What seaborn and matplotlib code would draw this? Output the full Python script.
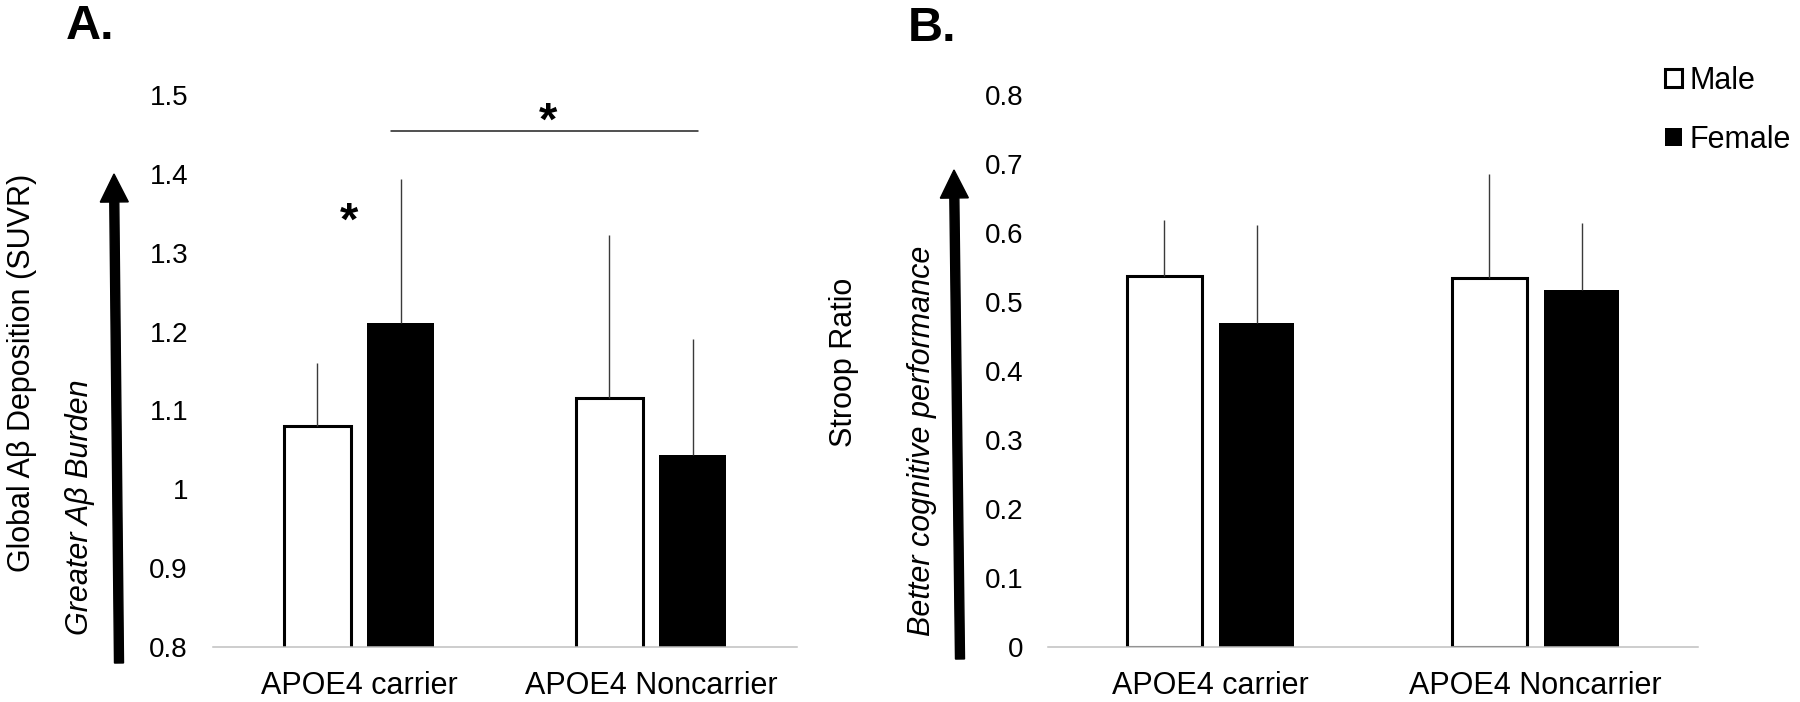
import numpy as np
import pandas as pd
import matplotlib
matplotlib.use("Agg")
import matplotlib.pyplot as plt
import matplotlib.patches as mpatches
from matplotlib.transforms import IdentityTransform
import seaborn as sns

# ==============================
# DATA
# ==============================

groups = ["APOE4 carrier", "APOE4 Noncarrier"]
sexes = ["Male", "Female"]

# Panel A - global amyloid SUVR (mean, upper SD)
abeta_male = [1.080, 1.116]
abeta_female = [1.211, 1.044]
abeta_male_sd = [0.080, 0.207]
abeta_female_sd = [0.183, 0.147]

# Panel B - Stroop ratio (mean, upper SD)
stroop_male = [0.538, 0.535]
stroop_female = [0.469, 0.518]
stroop_male_sd = [0.081, 0.151]
stroop_female_sd = [0.142, 0.097]

a_ticks = [0.8, 0.9, 1.0, 1.1, 1.2, 1.3, 1.4, 1.5]
a_ticklabels = ["0.8", "0.9", "1", "1.1", "1.2", "1.3", "1.4", "1.5"]
b_ticks = [0, 0.1, 0.2, 0.3, 0.4, 0.5, 0.6, 0.7, 0.8]
b_ticklabels = ["0", "0.1", "0.2", "0.3", "0.4", "0.5", "0.6", "0.7", "0.8"]


def long_table(male, female):
    rows = []
    for g, m, f in zip(groups, male, female):
        rows.append({"group": g, "sex": "Male", "value": m})
        rows.append({"group": g, "sex": "Female", "value": f})
    return pd.DataFrame(rows)


df_a = long_table(abeta_male, abeta_female)
df_b = long_table(stroop_male, stroop_female)

# ==============================
# STYLE
# ==============================

sns.set_style("white")
plt.rcParams["font.family"] = ["Liberation Sans", "DejaVu Sans"]
plt.rcParams["text.color"] = "black"
plt.rcParams["xtick.color"] = "black"
plt.rcParams["ytick.color"] = "black"

W, H = 1800, 702
fig = plt.figure(figsize=(W / 100, H / 100), dpi=100)

ax_a = fig.add_axes([213 / W, 1 - 647 / H, 584 / W, 552 / H])
ax_b = fig.add_axes([1048 / W, 1 - 647 / H, 650 / W, 552 / H])

palette = {"Male": "white", "Female": "black"}


def draw_panel(ax, df, male_sd, female_sd, ylim, ticks, ticklabels):
    sns.barplot(
        data=df, x="group", y="value", hue="sex",
        order=groups, hue_order=sexes, palette=palette,
        width=0.57, gap=0.19, errorbar=None, legend=False, ax=ax,
    )
    sds = [male_sd, female_sd]
    for cont, sd, sex in zip(ax.containers, sds, sexes):
        for patch, e in zip(cont.patches, sd):
            patch.set_edgecolor("black")
            patch.set_linewidth(2.2 if sex == "Male" else 0)
            xc = patch.get_x() + patch.get_width() / 2
            top = patch.get_y() + patch.get_height()
            ax.vlines(xc, top, top + e, color="#3a3a3a", lw=1.0, zorder=3)

    ax.set_xlim(-0.5, 1.5)
    ax.set_ylim(*ylim)
    ax.set_yticks(ticks)
    ax.set_yticklabels(ticklabels)
    ax.set_xlabel("")
    ax.set_ylabel("")
    for side in ["left", "top", "right"]:
        ax.spines[side].set_visible(False)
    ax.spines["bottom"].set_color("#c0c0c0")
    ax.spines["bottom"].set_linewidth(1.1)
    ax.spines["bottom"].set_zorder(4)
    ax.tick_params(axis="y", length=0, pad=18, labelsize=20, labelcolor="black")
    ax.tick_params(axis="x", length=0, pad=17, labelsize=22, labelcolor="black")


draw_panel(ax_a, df_a, abeta_male_sd, abeta_female_sd, (0.8, 1.5), a_ticks, a_ticklabels)
draw_panel(ax_b, df_b, stroop_male_sd, stroop_female_sd, (0, 0.8), b_ticks, b_ticklabels)

# significance marks (panel A)
ax_a.plot([0.11, 1.16], [1.454, 1.454], color="#202020", lw=1.1, clip_on=False)
ax_a.text(0.647, 1.449, "*", fontsize=34, fontweight="bold", ha="center", va="baseline")
ax_a.text(-0.034, 1.323, "*", fontsize=34, fontweight="bold", ha="center", va="baseline")

# panel letters
fig.text(66 / W, 1 - 39 / H, "A.", fontsize=35, fontweight="bold", va="baseline")
fig.text(908 / W, 1 - 41 / H, "B.", fontsize=35, fontweight="bold", va="baseline")

# axis titles and direction notes
fig.text(22 / W, 1 - 373 / H, "Global A\u03b2 Deposition (SUVR)", rotation=90,
         fontsize=22, ha="center", va="center")
fig.text(80 / W, 1 - 507 / H, "Greater A\u03b2 Burden", rotation=90, style="italic",
         fontsize=22, ha="center", va="center")
fig.text(844 / W, 1 - 362 / H, "Stroop Ratio", rotation=90,
         fontsize=22, ha="center", va="center")
fig.text(922 / W, 1 - 441 / H, "Better cognitive performance", rotation=90, style="italic",
         fontsize=22, ha="center", va="center")

# direction arrows (pixel coordinates, origin bottom-left)
for x0, y0, x1, y1 in [(119, 39, 114, 528), (960, 43, 954, 532)]:
    arrow = mpatches.FancyArrow(
        x0, y0, x1 - x0, y1 - y0, width=9, head_width=28, head_length=28,
        length_includes_head=True, color="black", transform=IdentityTransform(),
    )
    fig.add_artist(arrow)

# legend
handles = [ax_b.containers[0].patches[0], ax_b.containers[1].patches[0]]
fig.legend(
    handles=handles, labels=sexes, loc="upper left",
    bbox_to_anchor=(1665 / W, 1 - 66 / H), frameon=False, fontsize=22,
    handlelength=0.55, handleheight=0.55, handletextpad=0.25,
    labelspacing=0.95, borderpad=0, borderaxespad=0,
)

fig.savefig("out.png", dpi=100)
